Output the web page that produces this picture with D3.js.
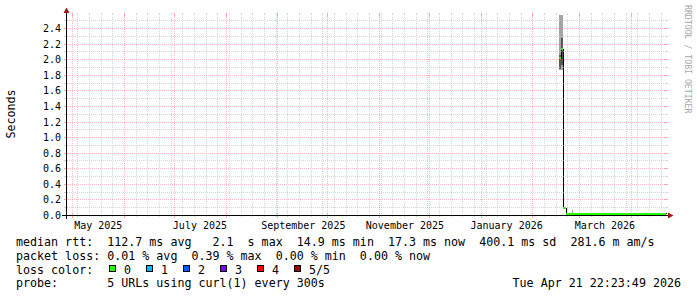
<!DOCTYPE html>
<html>
<head>
<meta charset="utf-8">
<script src="https://cdn.jsdelivr.net/npm/d3@7"></script>
<style>
  html, body { margin: 0; padding: 0; background: #fff; }
  svg { display: block; font-family: "DejaVu Sans Mono", monospace; }
  svg text { white-space: pre; }
</style>
</head>
<body>
<script>
// time span of the graph: 360 days ending at the footer timestamp
var startTime = new Date("2025-04-26T22:23:49Z"),
    endTime = new Date("2026-04-21T22:23:49Z");

// consolidated samples (start time of each step), values in seconds
var sampleTimes = [
  "2026-02-16T19:00:00Z", "2026-02-17T23:00:00Z", "2026-02-19T11:00:00Z",
  "2026-02-20T23:00:00Z", "2026-02-25T00:00:00Z", "2026-02-25T14:00:00Z",
  "2026-03-04T00:00:00Z", "2026-03-12T00:00:00Z", "2026-03-20T00:00:00Z",
  "2026-03-28T00:00:00Z", "2026-04-04T00:00:00Z", "2026-04-09T22:00:00Z",
  "2026-04-10T12:00:00Z", "2026-04-16T00:00:00Z"
];
var medianRtt = [2.01, 2.13, 0.085, 0.016, 0.017, 0.016, 0.015, 0.016, 0.017, 0.016, 0.015, 0.017, 0.016, 0.017];
var pingMin   = [1.86, 1.86, 0.080, 0.013, 0.013, 0.013, 0.012, 0.013, 0.013, 0.012, 0.012, 0.013, 0.013, 0.013];
var ping2     = [1.87, 1.92, 0.083, 0.014, 0.015, 0.014, 0.014, 0.014, 0.015, 0.014, 0.014, 0.015, 0.014, 0.015];
var ping4     = [2.06, 2.27, 0.090, 0.019, 0.021, 0.019, 0.018, 0.019, 0.020, 0.018, 0.018, 0.020, 0.019, 0.019];
var pingMax   = [3.05, 2.95, 0.095, 0.024, 0.068, 0.025, 0.022, 0.023, 0.024, 0.023, 0.022, 0.026, 0.023, 0.024];
var lossCount = [0, 0, 0, 0, 0, 0, 0, 0, 0, 0, 0, 1, 0, 0];

var yMax = 2.567;
var yMajorStep = 0.2, yMinorStep = 0.1;

var lossLabels = ["0", "1", "2", "3", "4", "5/5"];
var lossColors = ["#26ff00", "#00b8ff", "#0059ff", "#7e00ff", "#ff0000", "#a10000"];

var statsRtt = "median rtt:  112.7 ms avg   2.1  s max  14.9 ms min  17.3 ms now  400.1 ms sd  281.6 m am/s";
var statsLoss = "packet loss: 0.01 % avg  0.39 % max  0.00 % min  0.00 % now";
var probeText = "probe:       5 URLs using curl(1) every 300s";
var stampText = "Tue Apr 21 22:23:49 2026";

// set the dimensions of the graph
var W = 697, H = 297;
var X0 = 66, X1 = 666, Y0 = 215, Y1 = 15;

var svg = d3.select("body").append("svg")
    .attr("width", W)
    .attr("height", H);

// set the ranges
var x = d3.scaleUtc().domain([startTime, endTime]).range([X0, X1]);
var y = d3.scaleLinear().domain([0, yMax]).range([Y0, Y1]);

function fx(t) { return Math.floor(x(t)); }
function ry(v) { return Math.round(y(v)) + 0.5; }

var samples = sampleTimes.map(function (s, i) {
    return {
        t0: new Date(s),
        t1: i + 1 < sampleTimes.length ? new Date(sampleTimes[i + 1]) : endTime,
        median: medianRtt[i],
        lo: pingMin[i], lo2: ping2[i], hi2: ping4[i], hi: pingMax[i],
        loss: lossCount[i]
    };
});

svg.append("clipPath").attr("id", "clip")
    .append("rect").attr("x", X0).attr("y", Y1).attr("width", X1 - X0 + 1).attr("height", Y0 - Y1 + 1);

var dataG = svg.append("g")
    .attr("clip-path", "url(#clip)")
    .attr("shape-rendering", "crispEdges");

// smoke: outer and inner ping ranges
dataG.selectAll(".smoke-outer")
    .data(samples)
    .enter().append("rect")
    .attr("x", function (d) { return fx(d.t0); })
    .attr("width", function (d) { return fx(d.t1) - fx(d.t0); })
    .attr("y", function (d) { return y(d.hi); })
    .attr("height", function (d) { return y(d.lo) - y(d.hi); })
    .attr("fill", "#a4a4a4");

dataG.selectAll(".smoke-inner")
    .data(samples)
    .enter().append("rect")
    .attr("x", function (d) { return fx(d.t0); })
    .attr("width", function (d) { return fx(d.t1) - fx(d.t0); })
    .attr("y", function (d) { return y(d.hi2); })
    .attr("height", function (d) { return y(d.lo2) - y(d.hi2); })
    .attr("fill", "#585858");

// median line
var linePts = samples.map(function (d) { return [fx(d.t0) + 0.5, y(d.median)]; });
linePts.push([fx(endTime) + 0.5, y(samples[samples.length - 1].median)]);
dataG.append("path")
    .attr("d", d3.line().curve(d3.curveStepAfter)(linePts))
    .attr("fill", "none")
    .attr("stroke", "#000")
    .attr("stroke-width", 1);

// loss colour markers around the median
dataG.selectAll(".loss")
    .data(samples)
    .enter().append("rect")
    .attr("x", function (d) { return fx(d.t0); })
    .attr("width", function (d) { return fx(d.t1) - fx(d.t0); })
    .attr("y", function (d) { return y(d.median) - 1; })
    .attr("height", 2)
    .attr("fill", function (d) { return lossColors[d.loss]; });

// grid
var gridCol = "rgba(186,186,186,0.6)", mgridCol = "rgba(255,96,96,0.42)";
var grid = svg.append("g").attr("shape-rendering", "crispEdges");

var yMajor = d3.range(0, yMax, yMajorStep);
var yMinor = d3.range(0, yMax, yMinorStep).filter(function (v) {
    return Math.abs(v / yMajorStep - Math.round(v / yMajorStep)) > 1e-6;
});

grid.selectAll(".hminor").data(yMinor).enter().append("path")
    .attr("d", function (v) {
        var yy = ry(v);
        return "M" + (X0 - 2) + "," + yy + "H" + X0 + "M" + X1 + "," + yy + "H" + (X1 + 2);
    })
    .attr("stroke", gridCol);
grid.selectAll(".hminord").data(yMinor).enter().append("path")
    .attr("d", function (v) { return "M" + (X0 - 1) + "," + ry(v) + "H" + (X1 + 1); })
    .attr("stroke", gridCol).attr("stroke-dasharray", "1,1");

grid.selectAll(".hmajor").data(yMajor.filter(function (v) { return v > 0; })).enter().append("path")
    .attr("d", function (v) {
        var yy = ry(v);
        return "M" + (X0 - 2) + "," + yy + "H" + (X0 + 2) + "M" + (X1 - 2) + "," + yy + "H" + (X1 + 2);
    })
    .attr("stroke", mgridCol);
grid.selectAll(".hmajord").data(yMajor.filter(function (v) { return v > 0; })).enter().append("path")
    .attr("d", function (v) { return "M" + (X0 - 2) + "," + ry(v) + "H" + (X1 + 2); })
    .attr("stroke", mgridCol).attr("stroke-dasharray", "1,1");

var months = d3.utcMonth.range(startTime, endTime);
var weeks = d3.utcSunday.range(startTime, endTime).filter(function (w) {
    return w.getUTCDate() !== 1;
});

grid.selectAll(".vminor").data(weeks).enter().append("path")
    .attr("d", function (t) {
        var xx = fx(t) + 0.5;
        return "M" + xx + "," + (Y1 - 2) + "V" + Y1 + "M" + xx + "," + Y0 + "V" + (Y0 + 2);
    })
    .attr("stroke", gridCol);
grid.selectAll(".vminord").data(weeks).enter().append("path")
    .attr("d", function (t) { var xx = fx(t) + 0.5; return "M" + xx + "," + (Y0 - 1) + "V" + (Y1 + 1); })
    .attr("stroke", gridCol).attr("stroke-dasharray", "1,1");

grid.selectAll(".vmajor").data(months).enter().append("path")
    .attr("d", function (t) {
        var xx = fx(t) + 0.5;
        return "M" + xx + "," + (Y1 - 2) + "V" + (Y1 + 2) + "M" + xx + "," + (Y0 - 2) + "V" + (Y0 + 3);
    })
    .attr("stroke", mgridCol);
grid.selectAll(".vmajord").data(months).enter().append("path")
    .attr("d", function (t) { var xx = fx(t) + 0.5; return "M" + xx + "," + (Y0 + 3) + "V" + (Y1 - 2); })
    .attr("stroke", mgridCol).attr("stroke-dasharray", "1,1");

// axis lines and arrows
var axisG = svg.append("g").attr("shape-rendering", "crispEdges");
axisG.append("path")
    .attr("d", "M" + (X0 - 4) + "," + (Y0 + 0.5) + "H" + (X1 + 4) +
               "M" + (X0 + 0.5) + "," + (Y0 + 4) + "V" + (Y1 - 4))
    .attr("stroke", "#000");
svg.append("path")
    .attr("d", "M" + (X1 + 2) + "," + (Y0 - 2.5) + "L" + (X1 + 2) + "," + (Y0 + 3.5) + "L" + (X1 + 7.5) + "," + (Y0 + 0.5) + "Z" +
               "M" + (X0 - 2.5) + "," + (Y1 - 2) + "L" + (X0 + 3.5) + "," + (Y1 - 2) + "L" + (X0 + 0.5) + "," + (Y1 - 7.5) + "Z")
    .attr("fill", "#9a1a1a");

// add the y Axis labels
var yAxis = svg.append("g")
    .attr("transform", "translate(" + X0 + ",0.5)")
    .call(d3.axisLeft(y).tickValues(yMajor).tickFormat(d3.format(".1f")).tickSize(0).tickPadding(5));
yAxis.select(".domain").remove();
yAxis.selectAll("text")
    .attr("y", function (v) { return Math.round(y(v)) - y(v); })
    .attr("font-family", "DejaVu Sans Mono").attr("font-size", "10px").attr("fill", "#000");

// add the x Axis labels (centred half a month after the month start)
var labelMonths = d3.utcMonth.every(2).range(startTime, endTime).map(function (m) {
    return d3.utcDay.offset(m, 15);
});
var xAxis = svg.append("g")
    .attr("transform", "translate(0," + Y0 + ")")
    .call(d3.axisBottom(x).tickValues(labelMonths).tickSize(0).tickPadding(6.4)
        .tickFormat(function (d) { return d3.utcFormat("%B %Y")(d3.utcMonth.floor(d)); }));
xAxis.select(".domain").remove();
xAxis.selectAll("text")
    .attr("font-family", "DejaVu Sans Mono").attr("font-size", "10px").attr("fill", "#000");

// vertical labels
svg.append("text")
    .attr("transform", "translate(15,114) rotate(-90)")
    .attr("text-anchor", "middle")
    .attr("font-size", "11.67px")
    .text("Seconds");

svg.append("text")
    .attr("transform", "translate(685,5) rotate(90)")
    .attr("font-size", "8.2px")
    .attr("fill", "#a8a8a8")
    .text("RRDTOOL / TOBI OETIKER");

// legend
var legend = svg.append("g")
    .attr("font-size", "11.67px");

function legendText(xx, yy, s) {
    return legend.append("text")
        .attr("x", xx).attr("y", yy)
        .attr("xml:space", "preserve")
        .style("white-space", "pre")
        .text(s);
}

legendText(16, 245.5, statsRtt);
legendText(16, 259.5, statsLoss);
legendText(16, 273.5, "loss color:");
legendText(16, 287, probeText);
legendText(681, 287, stampText).attr("text-anchor", "end");

var lossItems = legend.selectAll(".lossItem")
    .data(lossLabels)
    .enter().append("g")
    .attr("transform", function (d, i) { return "translate(" + (109 + i * 37) + ",265)"; });
lossItems.append("rect")
    .attr("x", 0.5).attr("y", 0.5).attr("width", 6).attr("height", 6)
    .attr("fill", function (d, i) { return lossColors[i]; })
    .attr("stroke", "#000")
    .attr("shape-rendering", "crispEdges");
lossItems.append("text")
    .attr("x", 15).attr("y", 8.5)
    .text(function (d) { return d; });
</script>
</body>
</html>
